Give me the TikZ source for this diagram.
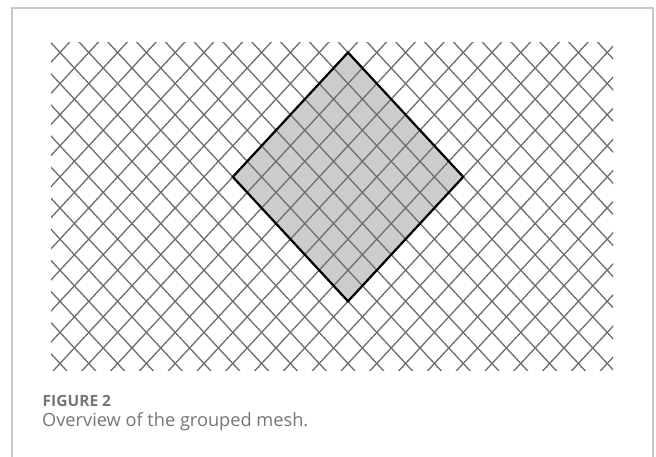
\documentclass[tikz,border=0pt]{standalone}
\usepackage{fontspec}
\setmainfont{Open Sans}
\definecolor{framegray}{HTML}{C8C8C8}
\definecolor{meshgray}{HTML}{6E6E6E}
\definecolor{fillgray}{HTML}{CCCCCC}
\definecolor{capgray}{HTML}{767676}
\tikzset{
  frameline/.style={draw=framegray, line width=1.2pt},
  meshline/.style={draw=meshgray, line width=1.3pt},
  groupfill/.style={fill=fillgray},
  groupborder/.style={draw=black, line width=2.2pt, line join=miter},
  figlabel/.style={anchor=base west, inner sep=0pt, text=capgray, font=\fontsize{15.5}{18}\selectfont\bfseries},
  figcaption/.style={anchor=base west, inner sep=0pt, text=capgray, font=\fontsize{18.2}{21}\selectfont},
}
\begin{document}
\begin{tikzpicture}[x=1pt,y=-1pt]
\useasboundingbox (0,0) rectangle (656,457);
\fill[white] (0,0) rectangle (656,457);
% frame
\draw[frameline] (12,457) -- (12,8) -- (653,8) -- (653,457);
% lattice: x = 60 + 14.4 i, y = 52.5 + 15.55 j
\coordinate (dtop) at ({60+14.4*20},{52.5+15.55*0});
\coordinate (dright) at ({60+14.4*28},{52.5+15.55*8});
\coordinate (dbottom) at ({60+14.4*20},{52.5+15.55*16});
\coordinate (dleft) at ({60+14.4*12},{52.5+15.55*8});
\fill[groupfill] (dtop) -- (dright) -- (dbottom) -- (dleft) -- cycle;
\begin{scope}
\clip (51,43) rectangle (613,370);
\foreach \k in {-12,...,21} {
  \draw[meshline] ({60+14.4*(2*\k-2)},{52.5+15.55*(-2)}) -- ({60+14.4*(2*\k+22)},{52.5+15.55*22});
}
\foreach \k in {-12,...,31} {
  \draw[meshline] ({60+14.4*(2*\k+2)},{52.5+15.55*(-2)}) -- ({60+14.4*(2*\k-22)},{52.5+15.55*22});
}
\end{scope}
\draw[groupborder] (dtop) -- (dright) -- (dbottom) -- (dleft) -- cycle;
% caption
\node[figlabel] (lab) at (42.5,406.7) {FIGURE 2};
\node[figcaption] (cap) at (42,426.5) {Overview of the grouped mesh.};
\end{tikzpicture}
\end{document}
